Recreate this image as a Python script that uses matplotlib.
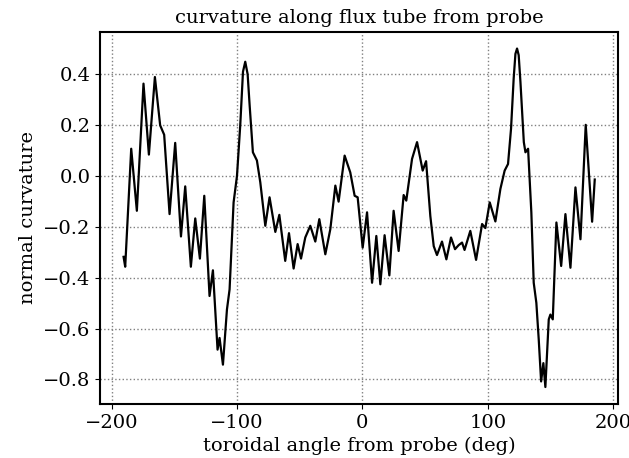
import numpy as np
import matplotlib.pyplot as plt

plt.rcParams['font.family'] = 'DejaVu Serif'
plt.rcParams['font.size'] = 14

# toroidal angle (deg) and normal curvature
angle = [-190.6, -189.3, -184.5, -180.0, -174.7, -170.4, -165.6, -161.4, -158.2, -153.9,
         -149.4, -144.8, -141.4, -136.9, -133.4, -129.7, -126.2, -122.0, -119.3, -115.6,
         -114.0, -111.3, -108.1, -106.0, -102.8, -100.1, -97.5, -95.3, -93.5, -91.6, -90.0, -87.4,
         -84.2, -81.5, -77.5, -74.1, -69.5, -66.3, -61.6, -58.6, -54.9, -51.7,
         -49.0, -45.6, -41.6, -37.6, -34.4, -29.6, -25.6, -21.6, -19.0, -14.2,
         -9.7, -6.2, -3.8, 0.2, 3.7, 7.7, 11.1, 14.3, 17.7, 21.5,
         24.9, 28.9, 32.9, 35.0, 39.6, 43.6, 48.1, 50.8, 54.2, 56.9,
         59.5, 63.5, 67.0, 70.7, 73.9, 76.8, 79.5, 81.5, 86.1, 90.7,
         95.5, 98.1, 101.6, 106.1, 110.1, 113.5, 116.2, 118.6, 120.7, 122.1, 123.4, 124.7,
         126.1, 128.8, 130.1, 132.2, 134.8, 136.7, 138.8, 140.7, 142.6, 144.4,
         146.0, 148.7, 150.0, 151.9, 154.8, 158.6, 162.0, 166.0, 170.0, 174.0,
         178.2, 183.3, 185.4]
curv = [-0.318, -0.357, 0.107, -0.137, 0.363, 0.084, 0.389, 0.199, 0.162, -0.150,
        0.130, -0.238, -0.041, -0.357, -0.167, -0.325, -0.078, -0.472, -0.371, -0.683,
        -0.637, -0.742, -0.525, -0.446, -0.104, 0.0, 0.199, 0.410, 0.449, 0.400, 0.278, 0.093,
        0.061, -0.025, -0.196, -0.084, -0.220, -0.153, -0.334, -0.225, -0.364, -0.268,
        -0.325, -0.242, -0.196, -0.258, -0.170, -0.308, -0.209, -0.038, -0.101, 0.080,
        0.014, -0.078, -0.084, -0.282, -0.143, -0.420, -0.236, -0.426, -0.233, -0.391,
        -0.137, -0.295, -0.075, -0.097, 0.067, 0.133, 0.021, 0.058, -0.158, -0.276,
        -0.311, -0.258, -0.328, -0.242, -0.288, -0.272, -0.262, -0.291, -0.216, -0.330,
        -0.189, -0.205, -0.104, -0.179, -0.051, 0.021, 0.047, 0.186, 0.383, 0.480, 0.501, 0.475,
        0.370, 0.133, 0.093, 0.107, -0.143, -0.420, -0.499, -0.643, -0.808, -0.736,
        -0.830, -0.564, -0.545, -0.564, -0.183, -0.354, -0.150, -0.361, -0.045, -0.249,
        0.201, -0.180, -0.014]

fig = plt.figure(figsize=(6.29, 4.58), dpi=100)
ax = fig.add_axes([0.159, 0.118, 0.824, 0.813])
ax.plot(angle, curv, color='black', lw=1.6)
ax.grid(True, linestyle=':', color='gray', lw=1)
for s in ax.spines.values():
    s.set_linewidth(1.5)
ax.set_title('curvature along flux tube from probe', fontsize=14)
ax.set_xlabel('toroidal angle from probe (deg)')
ax.set_ylabel('normal curvature')
ax.set_xticks([-200, -100, 0, 100, 200])

fig.savefig('out.png', dpi=100)
